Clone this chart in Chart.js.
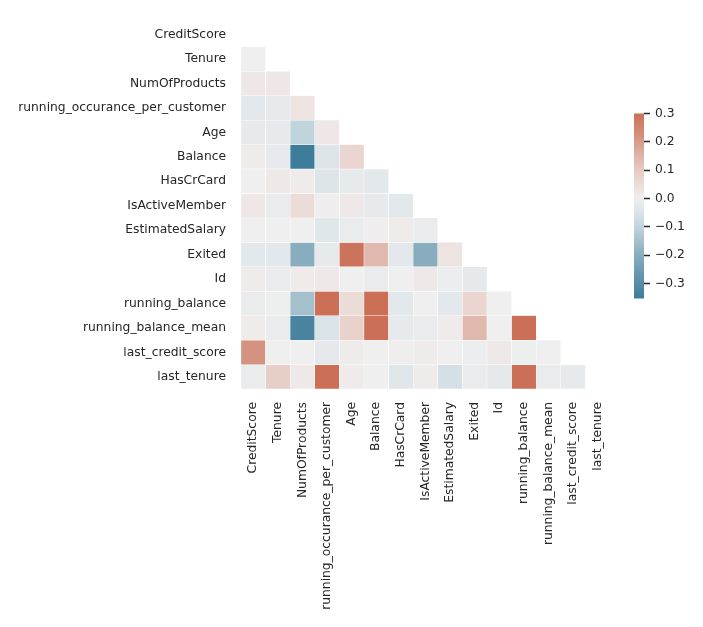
<!DOCTYPE html>
<html>
<head>
<meta charset="utf-8">
<script src="https://cdn.jsdelivr.net/npm/chart.js"></script>
<style>
  body { margin: 0; background: #fff; }
  #wrap { position: relative; width: 703px; height: 627px; }
  #heat { position: absolute; left: 0; top: 0; }
  #cbar { position: absolute; left: 620px; top: 101px; }
</style>
</head>
<body>
<div id="wrap">
  <canvas id="heat" width="703" height="627"></canvas>
  <canvas id="cbar" width="83" height="210"></canvas>
</div>
<script>
// variable names (rows top->bottom, columns left->right)
const variables = ['CreditScore', 'Tenure', 'NumOfProducts', 'running_occurance_per_customer',
  'Age', 'Balance', 'HasCrCard', 'IsActiveMember', 'EstimatedSalary', 'Exited', 'Id',
  'running_balance', 'running_balance_mean', 'last_credit_score', 'last_tenure'];

// lower triangle correlations, row i has i values
const corrTenure = [0.0];
const corrNumOfProducts = [0.02, 0.02];
const corrRunningOcc = [-0.03, -0.02, 0.03];
const corrAge = [-0.02, -0.02, -0.10, 0.02];
const corrBalance = [0.01, -0.02, -0.35, -0.04, 0.07];
const corrHasCrCard = [0.0, 0.015, 0.01, -0.04, -0.02, -0.03];
const corrIsActive = [0.02, -0.015, 0.05, 0.005, 0.015, -0.02, -0.03];
const corrSalary = [0.0, 0.0, 0.0, -0.035, -0.015, 0.005, 0.01, -0.015];
const corrExited = [-0.03, -0.03, -0.20, -0.02, 0.29, 0.14, -0.03, -0.20, 0.03];
const corrId = [0.01, -0.015, 0.01, 0.015, 0.0, -0.015, 0.0, 0.015, -0.01, -0.025];
const corrRunningBal = [-0.015, -0.005, -0.15, 0.30, 0.05, 0.30, -0.03, 0.0, -0.03, 0.07, 0.0];
const corrRunningBalMean = [0.01, -0.015, -0.33, -0.05, 0.08, 0.30, -0.02, -0.015, 0.01, 0.14, 0.0, 0.30];
const corrLastCredit = [0.22, 0.0, 0.0, -0.025, 0.01, 0.0, 0.005, 0.01, 0.0, -0.01, 0.015, -0.005, 0.0];
const corrLastTenure = [-0.015, 0.09, 0.015, 0.30, 0.01, 0.0, -0.035, 0.01, -0.06, -0.015, -0.025, 0.30, -0.015, -0.02];

const corrRows = [[], corrTenure, corrNumOfProducts, corrRunningOcc, corrAge, corrBalance,
  corrHasCrCard, corrIsActive, corrSalary, corrExited, corrId, corrRunningBal,
  corrRunningBalMean, corrLastCredit, corrLastTenure];

const vmin = -0.353, vmax = 0.3;
const cbarTicks = [-0.3, -0.2, -0.1, 0.0, 0.1, 0.2, 0.3];

// diverging palette stops (value -> rgb)
const cmapStops = [
  [-0.353, [61, 123, 155]],
  [-0.2, [135, 173, 191]],
  [-0.15, [165, 192, 205]],
  [-0.1, [192, 212, 220]],
  [-0.05, [218, 227, 232]],
  [0.0, [239, 239, 239]],
  [0.05, [236, 220, 216]],
  [0.1, [230, 203, 195]],
  [0.14, [225, 184, 173]],
  [0.22, [212, 146, 128]],
  [0.3, [203, 112, 86]]
];

function colorAt(v) {
  if (v <= cmapStops[0][0]) return 'rgb(' + cmapStops[0][1].join(',') + ')';
  for (let k = 1; k < cmapStops.length; k++) {
    const [v1, c1] = cmapStops[k];
    if (v <= v1) {
      const [v0, c0] = cmapStops[k - 1];
      const t = (v - v0) / (v1 - v0);
      const c = c0.map((x, n) => Math.round(x + (c1[n] - x) * t));
      return 'rgb(' + c.join(',') + ')';
    }
  }
  return 'rgb(' + cmapStops[cmapStops.length - 1][1].join(',') + ')';
}

Chart.defaults.font.family = '"DejaVu Sans", sans-serif';
Chart.defaults.font.size = 12.3;
Chart.defaults.color = '#262626';

// one floating-bar dataset per row
const datasets = corrRows.map((row, i) => ({
  data: variables.map((_, j) => j < i ? [i, i + 1] : null),
  backgroundColor: variables.map((_, j) => j < i ? colorAt(row[j]) : 'rgba(0,0,0,0)'),
  borderColor: '#ffffff',
  borderWidth: 0.5,
  borderSkipped: false,
  barPercentage: 1,
  categoryPercentage: 1,
  grouped: false
}));

new Chart(document.getElementById('heat'), {
  type: 'bar',
  data: { labels: variables, datasets: datasets },
  options: {
    responsive: false,
    animation: false,
    layout: { padding: { top: 20, right: 93, left: 0, bottom: 0 } },
    plugins: { legend: { display: false }, tooltip: { enabled: false } },
    scales: {
      x: {
        type: 'category',
        grid: { display: false, drawTicks: false },
        border: { display: false },
        ticks: { autoSkip: false, minRotation: 90, maxRotation: 90, padding: 13 },
        afterFit: (s) => { s.height = 627 - 389; }
      },
      y: {
        type: 'linear',
        min: 0, max: 15, reverse: true,
        grid: { display: false, drawTicks: false },
        border: { display: false },
        afterBuildTicks: (s) => { s.ticks = variables.map((_, i) => ({ value: i + 0.5 })); },
        ticks: { padding: 15, callback: (v, idx) => variables[idx] },
        afterFit: (s) => { s.width = 241; }
      }
    }
  }
});

// colorbar
new Chart(document.getElementById('cbar'), {
  type: 'bar',
  data: {
    labels: [''],
    datasets: [{
      data: [[vmin, vmax]],
      barPercentage: 1,
      categoryPercentage: 1,
      borderWidth: 0,
      backgroundColor: (ctx) => {
        const area = ctx.chart.chartArea;
        if (!area) return '#ccc';
        const y = ctx.chart.scales.y;
        const g = ctx.chart.ctx.createLinearGradient(0, y.getPixelForValue(vmin), 0, y.getPixelForValue(vmax));
        for (let k = 0; k <= 40; k++) {
          const v = vmin + (vmax - vmin) * k / 40;
          g.addColorStop(k / 40, colorAt(v));
        }
        return g;
      }
    }]
  },
  options: {
    responsive: false,
    animation: false,
    layout: { padding: { top: 8, bottom: 4, left: 14, right: 0 } },
    plugins: { legend: { display: false }, tooltip: { enabled: false } },
    scales: {
      x: { display: false },
      y: {
        position: 'right',
        min: vmin, max: vmax,
        border: { display: false },
        grid: { drawOnChartArea: false, drawTicks: true, tickLength: 6, tickWidth: 1.5, color: '#262626' },
        afterBuildTicks: (s) => { s.ticks = cbarTicks.map(v => ({ value: v })); },
        ticks: { padding: 5, callback: (v) => v.toFixed(1).replace('-', '\u2212') },
        afterFit: (s) => { s.width = 59; }
      }
    }
  }
});
</script>
</body>
</html>
